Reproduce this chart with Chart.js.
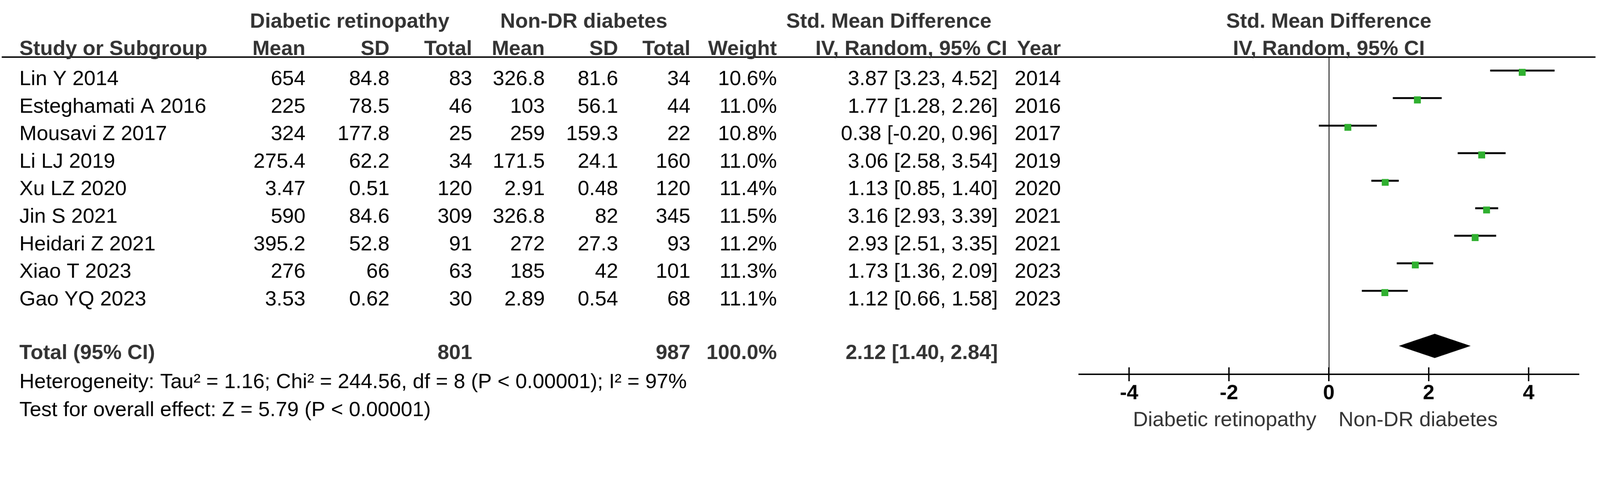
<!DOCTYPE html>
<html>
<head>
<meta charset="utf-8">
<script src="https://cdn.jsdelivr.net/npm/chart.js@4.4.1/dist/chart.umd.min.js"></script>
<style>
  html, body { margin: 0; padding: 0; background: #fff; overflow: hidden; }
  #outer { width: 100vw; height: 100vh; overflow: hidden; }
  #wrap { width: 4626px; height: 1285px; position: relative; transform-origin: 0 0; }
</style>
</head>
<body>
<div id="outer"><div id="wrap"><canvas id="forest"></canvas></div></div>
<script>
// study rows
const studies = ['Lin Y 2014', 'Esteghamati A 2016', 'Mousavi Z 2017', 'Li LJ 2019', 'Xu LZ 2020',
  'Jin S 2021', 'Heidari Z 2021', 'Xiao T 2023', 'Gao YQ 2023'];
const drMean = [654, 225, 324, 275.4, 3.47, 590, 395.2, 276, 3.53];
const drSD = [84.8, 78.5, 177.8, 62.2, 0.51, 84.6, 52.8, 66, 0.62];
const drTotal = [83, 46, 25, 34, 120, 309, 91, 63, 30];
const ndrMean = [326.8, 103, 259, 171.5, 2.91, 326.8, 272, 185, 2.89];
const ndrSD = [81.6, 56.1, 159.3, 24.1, 0.48, 82, 27.3, 42, 0.54];
const ndrTotal = [34, 44, 22, 160, 120, 345, 93, 101, 68];
const weights = [10.6, 11.0, 10.8, 11.0, 11.4, 11.5, 11.2, 11.3, 11.1];
const smd = [3.87, 1.77, 0.38, 3.06, 1.13, 3.16, 2.93, 1.73, 1.12];
const ciLow = [3.23, 1.28, -0.20, 2.58, 0.85, 2.93, 2.51, 1.36, 0.66];
const ciHigh = [4.52, 2.26, 0.96, 3.54, 1.40, 3.39, 3.35, 2.09, 1.58];
const years = [2014, 2016, 2017, 2019, 2020, 2021, 2021, 2023, 2023];

// pooled result
const totalDR = 801;
const totalNDR = 987;
const totalWeight = 100.0;
const pooled = [1.40, 2.12, 2.84]; // low, estimate, high
const totalRow = 10;
const heterogeneityText = 'Heterogeneity: Tau\u00b2 = 1.16; Chi\u00b2 = 244.56, df = 8 (P < 0.00001); I\u00b2 = 97%';
const overallText = 'Test for overall effect: Z = 5.79 (P < 0.00001)';

const xTicks = [-4, -2, 0, 2, 4];
const favoursLeft = 'Diabetic retinopathy';
const favoursRight = 'Non-DR diabetes';

const FONT = '"Liberation Sans", Arial, sans-serif';
const FS = 60;
const GREEN = '#30b030';
const f2 = v => v.toFixed(2);
const ciText = (m, lo, hi) => f2(m) + ' [' + f2(lo) + ', ' + f2(hi) + ']';

// draw in a 4626 x 1285 pixel frame whatever the page zoom is
const wrap = document.getElementById('wrap');
wrap.style.transform = 'scale(' + (window.innerWidth / 4626) + ')';

// square marker sitting a few pixels below the CI line, like RevMan does
function squareMarker(w) {
  const side = Math.round(20 * Math.sqrt(w / 11));
  const c = document.createElement('canvas');
  c.width = side;
  c.height = side + 10;
  const g = c.getContext('2d');
  g.fillStyle = GREEN;
  g.fillRect(0, 10, side, side);
  return c;
}

const tablePlugin = {
  id: 'table',
  afterDraw(chart) {
    const ctx = chart.ctx;
    const xs = chart.scales.x;
    const ys = chart.scales.y;
    const area = chart.chartArea;
    const zero = xs.getPixelForValue(0);
    ctx.save();

    // header line
    ctx.fillStyle = '#000';
    ctx.fillRect(5, area.top - 2, 4608, 4);

    const txt = (s, x, y, align, bold, color) => {
      ctx.font = (bold ? 'bold ' : '') + FS + 'px ' + FONT;
      ctx.textAlign = align;
      ctx.textBaseline = 'alphabetic';
      ctx.fillStyle = color;
      ctx.fillText(s, x, y);
    };

    // headers
    const h1 = 80, h2 = 159, hc = '#333';
    txt('Diabetic retinopathy', 1011, h1, 'center', true, hc);
    txt('Non-DR diabetes', 1688, h1, 'center', true, hc);
    txt('Std. Mean Difference', 2570, h1, 'center', true, hc);
    txt('Std. Mean Difference', zero, h1, 'center', true, hc);
    txt('Study or Subgroup', 56, h2, 'left', true, hc);
    txt('Mean', 883, h2, 'right', true, hc);
    txt('SD', 1126, h2, 'right', true, hc);
    txt('Total', 1365, h2, 'right', true, hc);
    txt('Mean', 1575, h2, 'right', true, hc);
    txt('SD', 1787, h2, 'right', true, hc);
    txt('Total', 1996, h2, 'right', true, hc);
    txt('Weight', 2246, h2, 'right', true, hc);
    txt('IV, Random, 95% CI', 2912, h2, 'right', true, hc);
    txt('Year', 3067, h2, 'right', true, hc);
    txt('IV, Random, 95% CI', zero, h2, 'center', true, hc);

    // study rows
    studies.forEach((name, i) => {
      const y = ys.getPixelForValue(i) + 42;
      txt(name, 56, y, 'left', false, '#000');
      txt(String(drMean[i]), 883, y, 'right', false, '#000');
      txt(String(drSD[i]), 1126, y, 'right', false, '#000');
      txt(String(drTotal[i]), 1365, y, 'right', false, '#000');
      txt(String(ndrMean[i]), 1575, y, 'right', false, '#000');
      txt(String(ndrSD[i]), 1787, y, 'right', false, '#000');
      txt(String(ndrTotal[i]), 1996, y, 'right', false, '#000');
      txt(weights[i].toFixed(1) + '%', 2246, y, 'right', false, '#000');
      txt(ciText(smd[i], ciLow[i], ciHigh[i]), 2885, y, 'right', false, '#000');
      txt(String(years[i]), 3067, y, 'right', false, '#000');
    });

    // total row
    const ty = ys.getPixelForValue(totalRow) + 38;
    txt('Total (95% CI)', 56, ty, 'left', true, hc);
    txt(String(totalDR), 1365, ty, 'right', true, hc);
    txt(String(totalNDR), 1996, ty, 'right', true, hc);
    txt(totalWeight.toFixed(1) + '%', 2246, ty, 'right', true, hc);
    txt(ciText(pooled[1], pooled[0], pooled[2]), 2885, ty, 'right', true, hc);
    txt(heterogeneityText, 56, 1122, 'left', false, '#000');
    txt(overallText, 56, 1203, 'left', false, '#000');

    // pooled diamond
    const dy = ys.getPixelForValue(totalRow);
    ctx.beginPath();
    ctx.moveTo(xs.getPixelForValue(pooled[0]), dy);
    ctx.lineTo(xs.getPixelForValue(pooled[1]), dy - 35);
    ctx.lineTo(xs.getPixelForValue(pooled[2]), dy);
    ctx.lineTo(xs.getPixelForValue(pooled[1]), dy + 35);
    ctx.closePath();
    ctx.fillStyle = '#000';
    ctx.fill();

    // tick marks crossing the axis
    ctx.strokeStyle = '#000';
    ctx.lineWidth = 4;
    xTicks.forEach(v => {
      const px = xs.getPixelForValue(v);
      ctx.beginPath();
      ctx.moveTo(px, area.bottom - 20);
      ctx.lineTo(px, area.bottom + 20);
      ctx.stroke();
    });

    // favours labels
    txt(favoursLeft, zero - 36, 1232, 'right', false, '#333');
    txt(favoursRight, zero + 28, 1232, 'left', false, '#333');
    ctx.restore();
  }
};

const ciSets = studies.map((s, i) => ({
  type: 'line',
  label: s,
  data: [{ x: ciLow[i], y: i }, { x: ciHigh[i], y: i }],
  borderColor: '#000',
  borderWidth: 5.5,
  borderCapStyle: 'butt',
  pointRadius: 0,
  order: 2
}));

const markerSet = {
  type: 'scatter',
  label: 'SMD',
  data: smd.map((v, i) => ({ x: v, y: i })),
  pointStyle: weights.map(squareMarker),
  pointRadius: 14,
  order: 1
};

new Chart(document.getElementById('forest'), {
  type: 'scatter',
  data: { datasets: [...ciSets, markerSet] },
  options: {
    responsive: true,
    maintainAspectRatio: false,
    devicePixelRatio: 1,
    animation: false,
    layout: { padding: { left: 3120, right: 62, top: 165, bottom: 0 } },
    plugins: { legend: { display: false }, tooltip: { enabled: false } },
    scales: {
      x: {
        type: 'linear',
        min: -5,
        max: 5,
        afterBuildTicks: scale => { scale.ticks = xTicks.map(v => ({ value: v })); },
        afterFit: scale => { scale.height = 203; },
        border: { display: true, color: '#000', width: 4 },
        grid: {
          drawTicks: false,
          color: c => (c.tick && c.tick.value === 0 ? '#333' : 'rgba(0,0,0,0)'),
          lineWidth: 3
        },
        ticks: {
          autoSkip: false,
          maxRotation: 0,
          padding: 19,
          color: '#000',
          font: { family: FONT, size: FS, weight: 'bold' }
        }
      },
      y: {
        type: 'linear',
        display: false,
        reverse: true,
        min: -0.49,
        max: 11.03
      }
    }
  },
  plugins: [tablePlugin]
});
</script>
</body>
</html>
